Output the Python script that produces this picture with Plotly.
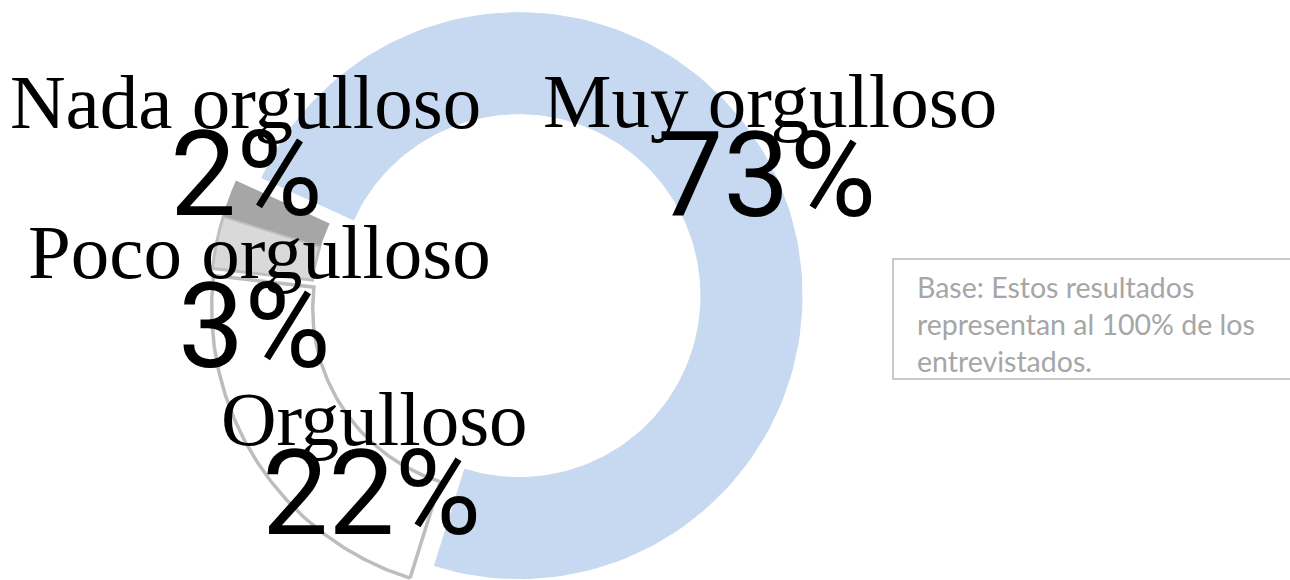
import numpy as np
import plotly.graph_objects as go

# ---- data -------------------------------------------------------------
categories = ["Muy orgulloso", "Orgulloso", "Poco orgulloso", "Nada orgulloso"]
values = [73, 22, 3, 2]
note_lines = ["Base: Estos resultados", "representan al 100% de los", "entrevistados."]

# ---- styling ----------------------------------------------------------
fill_colors = ["#c6d9f0", "#ffffff", "#d9d9d9", "#a6a6a6"]
line_colors = ["#c6d9f0", "#bdbdbd", "#bfbfbf", "#a6a6a6"]
line_widths = [1, 3.5, 3, 2]
pulls = [0.064, 0.033, 0.033, 0.033]      # explosion, as a fraction of the outer radius

W, H = 1290, 580
CX, CY = 502.5, 303.0      # ring centre (px from top-left)
R_PX = 283.0               # outer radius in px
HOLE = 0.643               # inner / outer radius
START_DEG = 294.6          # first slice start, clockwise from 12 o'clock

# label placement: (centre x, baseline y) in px
name_pos = [(770, 127), (374, 445), (259, 278), (245, 128)]
pct_pos = [(766, 214), (371, 532), (254, 365), (246, 213)]
NAME_SIZE, PCT_SIZE = 77, 118
NAME_FONT = "Liberation Serif, Times New Roman, serif"
PCT_FONT = "Roboto, Arial Narrow, sans-serif"


def sector(t0, t1, ox, oy, n=160):
    """Closed outline of a ring sector between angles t0..t1 (deg, clockwise from top)."""
    th = np.radians(np.linspace(t0, t1, n))
    xs = np.concatenate([np.sin(th), HOLE * np.sin(th[::-1])])
    ys = np.concatenate([np.cos(th), HOLE * np.cos(th[::-1])])
    xs = np.append(xs, xs[0]) + ox
    ys = np.append(ys, ys[0]) + oy
    return xs, ys


fig = go.Figure()

total = float(sum(values))
angle = START_DEG
for cat, val, fc, lc, lw, pull in zip(categories, values, fill_colors,
                                       line_colors, line_widths, pulls):
    span = 360.0 * val / total
    mid = np.radians(angle + span / 2)
    ox, oy = pull * np.sin(mid), pull * np.cos(mid)
    xs, ys = sector(angle, angle + span, ox, oy)
    fig.add_trace(go.Scatter(
        x=xs, y=ys, mode="lines", fill="toself",
        fillcolor=fc, line=dict(color=lc, width=lw),
        name=cat, hoveron="fills", hoverinfo="text",
        text=f"{cat}: {val}%", showlegend=False,
    ))
    angle += span


def px_to_paper(px, py):
    return px / W, 1 - py / H


# category names and percentages
for cat, val, (nx, nb), (px, pb) in zip(categories, values, name_pos, pct_pos):
    x, y = px_to_paper(nx, nb - 0.3375 * NAME_SIZE)
    fig.add_annotation(x=x, y=y, xref="paper", yref="paper", text=cat,
                       showarrow=False, xanchor="center", yanchor="middle",
                       font=dict(family=NAME_FONT, size=NAME_SIZE, color="#000000"))
    x, y = px_to_paper(px, pb - 0.32 * PCT_SIZE)
    fig.add_annotation(x=x, y=y, xref="paper", yref="paper", text=f"{val}%",
                       showarrow=False, xanchor="center", yanchor="middle",
                       font=dict(family=PCT_FONT, size=PCT_SIZE, color="#000000"))

# note box
bx0, by0 = px_to_paper(893, 259)
bx1, by1 = px_to_paper(1300, 379)
fig.add_shape(type="rect", xref="paper", yref="paper", x0=bx0, x1=bx1, y0=by1, y1=by0,
              line=dict(color="#c9c9c9", width=2), fillcolor="rgba(0,0,0,0)")
tx, ty = px_to_paper(915, 324)
fig.add_annotation(x=tx, y=ty, xref="paper", yref="paper", text="<br>".join(note_lines),
                   showarrow=False, xanchor="left", yanchor="middle", align="left",
                   font=dict(family="Lato, Open Sans, sans-serif", size=28.5, color="#a6a6a6"))

fig.update_layout(
    width=W, height=H,
    margin=dict(l=0, r=0, t=0, b=0),
    paper_bgcolor="#ffffff", plot_bgcolor="#ffffff",
    xaxis=dict(range=[-CX / R_PX, (W - CX) / R_PX], visible=False, fixedrange=True),
    yaxis=dict(range=[-(H - CY) / R_PX, CY / R_PX], visible=False, fixedrange=True),
    showlegend=False,
)

fig.write_html("out.html")
